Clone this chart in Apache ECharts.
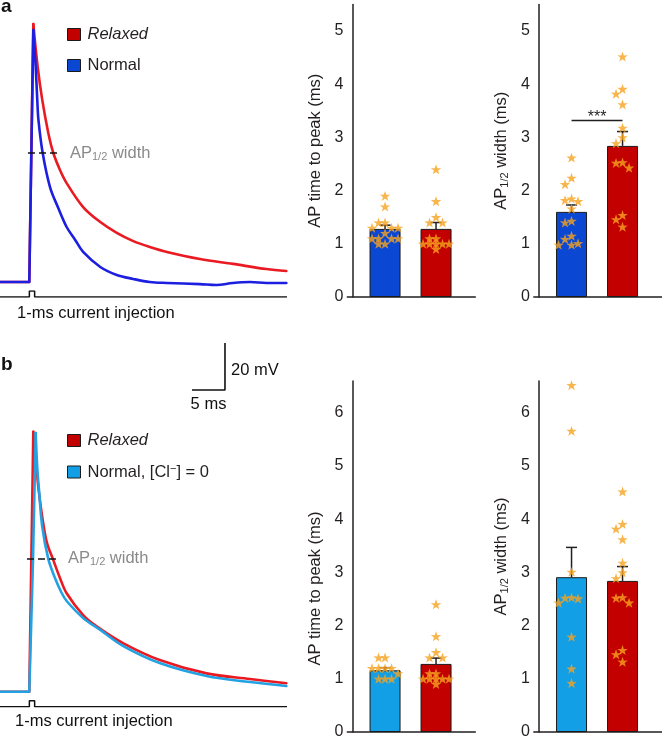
<!DOCTYPE html>
<html><head><meta charset="utf-8">
<script src="https://cdn.jsdelivr.net/npm/echarts@6/dist/echarts.min.js"></script>
<style>html,body{margin:0;padding:0;background:#fff}#c{width:662px;height:738px}</style>
</head><body><div id="c"></div>
<script>
// ---------- Action-potential traces (time in ms, membrane potential in mV) ----------
const aRelaxedT = [0, 4.44, 5.05, 5.71, 6.41, 7.32, 8.08, 9.09, 10.1, 12.6, 15.2, 17.7, 20.2, 22.7, 25.3, 30.3, 35.3, 40.4, 43.4];
const aRelaxedV = [-80, -80, 29.8, 11.5, -2.6, -16.6, -25.1, -32.3, -37.9, -48.1, -54.5, -59.1, -62.6, -65.1, -67.2, -70.2, -72.3, -74.5, -75.3];
const aNormalT = [0, 4.44, 5.05, 5.41, 5.65, 5.83, 6.47, 7.58, 8.83, 10.1, 11.4, 12.6, 15.2, 17.7, 20.2, 22.7, 25.3, 30.3, 32.8, 35.3, 37.9, 40.4, 43.4];
const aNormalV = [-80, -80, 27.2, 11.5, -2.6, -11.1, -25.1, -39.6, -48.5, -56.6, -62.1, -67.2, -73.6, -77.0, -78.7, -80, -80.4, -80.9, -81.3, -80.4, -80, -80.4, -80.4];
const bRelaxedT = [0, 4.44, 5.05, 5.45, 5.80, 6.47, 7.12, 8.08, 9.09, 10.1, 12.6, 14.7, 18.7, 24.2, 31.3, 37.9, 43.4];
const bRelaxedV = [-80, -80, 30.6, 18.6, 7.2, -6.9, -16.7, -24.0, -31.6, -38.1, -47.4, -52.3, -59.4, -66.5, -72.2, -74.6, -76.4];
const bNormalT = [0, 4.44, 5.0, 5.41, 5.65, 5.95, 6.41, 7.32, 8.33, 9.35, 10.1, 12.6, 15.2, 18.7, 24.2, 31.3, 37.9, 43.4];
const bNormalV = [-80, -80, -24.0, 30.1, 15.2, 4.6, -9.9, -23.5, -31.6, -38.0, -41.4, -48.6, -53.7, -60.6, -67.8, -73.3, -75.9, -77.6];
// stimulus (1-ms current injection), relative amplitude
const stimT = [0, 4.45, 4.45, 5.25, 5.25, 43.5];
const stimI = [0, 0, 1, 1, 0, 0];
// half-width markers [tStart, tEnd, level mV]
const aHalfWidth = [4.24, 8.79, -25.1];
const bHalfWidth = [4.09, 8.48, -23.5];
// scale bar: corner (ms, mV), lengths
const scaleCorner = [34.1, 48.4];
const scaleMs = 5, scaleMv = 20;

// ---------- Bar summaries (ms) : [Normal, Relaxed] ----------
const barX = [1, 2];
const aPeakMean = [1.28, 1.28], aPeakSem = [0.07, 0.12];
const aWidthMean = [1.60, 2.84], aWidthSem = [0.13, 0.27];
const bPeakMean = [1.16, 1.28], bPeakSem = [0.05, 0.11];
const bWidthMean = [2.91, 2.84], bWidthSem = [0.56, 0.27];
// individual cells
const aPeakNormal = [1.9, 1.7, 1.4, 1.4, 1.3, 1.3, 1.3, 1.2, 1.1, 1.1, 1.1, 1.1, 1.0, 1.0];
const relaxedPeak = [2.4, 1.8, 1.5, 1.4, 1.4, 1.1, 1.1, 1.0, 1.0, 1.0, 1.0, 1.0, 0.9];
const aWidthNormal = [2.62, 2.24, 2.12, 1.85, 1.82, 1.80, 1.66, 1.43, 1.40, 1.15, 1.09, 1.01, 0.98, 0.98];
const relaxedWidth = [4.52, 3.91, 3.82, 3.62, 3.18, 3.00, 2.89, 2.53, 2.52, 2.43, 1.54, 1.46, 1.32];
const bPeakNormal = [1.4, 1.4, 1.2, 1.2, 1.2, 1.2, 1.1, 1.0, 1.0, 1.0];
const bWidthNormal = [6.52, 5.66, 3.01, 2.53, 2.52, 2.51, 2.43, 1.79, 1.19, 0.92];
const sigLevel = 3.32, sigText = '***';

const yMaxA = 5.5, yMaxB = 6.6;

// ---------- styling ----------
const FONT = '"Liberation Sans", Arial, Helvetica, sans-serif';
const INK = '#231f20';
const C = {
  redTrace: '#ea1a22', blueTrace: '#1c1ee0', cyanTrace: '#22a2e2',
  redBar: '#c30000', blueBar: '#0a48d4', cyanBar: '#139fe6', star: '#f6a21e'
};
const NAME_N_A = 'Normal', NAME_R = 'Relaxed', NAME_N_B = 'Normal, [Cl\u2212] = 0';
const STAR = 'path://M50,0 L61.8,35.1 L97.6,34.5 L69,56 L79.4,90.5 L50,69.5 L20.6,90.5 L31,56 L2.4,34.5 L38.2,35.1 Z';
const PX_PER_MS = 53.2; // vertical px per ms on bar plots

const zip = (a, b) => a.map((v, i) => [v, b[i]]);

// deterministic beeswarm: spread overlapping cells sideways
function swarm(values, colPx, minSep) {
  const order = values.map((v, i) => i).sort((a, b) => values[b] - values[a]);
  const placed = [], offs = new Array(values.length).fill(0);
  const cols = [0, -1, 1, -2, 2];
  for (const i of order) {
    let chosen = null, cand = 0, candD = -1;
    for (const c of cols) {
      let d = Infinity;
      placed.forEach(p => { if (p.c === c) d = Math.min(d, Math.abs(p.v - values[i]) * PX_PER_MS); });
      if (d >= minSep) { chosen = c; break; }
      if (d > candD) { candD = d; cand = c; }
    }
    if (chosen === null) chosen = cand;
    placed.push({ c: chosen, v: values[i] });
    offs[i] = chosen * colPx;
  }
  return offs;
}

// ---------- grids ----------
const barXMin = 0.26, barXMax = 2.77;
const grids = [
  { left: 0, top: 0, width: 287, height: 305.5 },          // 0 trace a
  { left: 0, top: 291, width: 287, height: 6 },            // 1 stim a
  { left: 347.3, top: 4.4, width: 128, height: 292.6 },    // 2 bar a1
  { left: 533.8, top: 4.4, width: 128, height: 292.6 },    // 3 bar a2
  { left: 0, top: 339.2, width: 287, height: 376 },        // 4 trace b
  { left: 0, top: 700.7, width: 287, height: 6 },          // 5 stim b
  { left: 347.3, top: 380.9, width: 128, height: 351.1 },  // 6 bar b1
  { left: 533.8, top: 380.9, width: 128, height: 351.1 }   // 7 bar b2
].map(g => Object.assign({ outerBoundsMode: 'none', containLabel: false }, g));

const hiddenAxis = (gi, min, max) => ({ gridIndex: gi, type: 'value', min, max, show: false });
const xAxes = [], yAxes = [];
function barAxes(gi, max, name, rich, namePad) {
  xAxes.push({ gridIndex: gi, type: 'value', min: barXMin, max: barXMax,
    axisLine: { show: true, onZero: true, lineStyle: { color: INK, width: 1.5 } },
    axisTick: { show: false }, axisLabel: { show: false }, splitLine: { show: false } });
  yAxes.push({ gridIndex: gi, type: 'value', min: 0, max, interval: 1, offset: -5,
    axisLine: { show: true, onZero: false, lineStyle: { color: INK, width: 1.5 } },
    axisTick: { show: false }, splitLine: { show: false },
    axisLabel: { fontSize: 16, color: INK, fontFamily: FONT, margin: 9,
      formatter: v => (Math.abs(v - Math.round(v)) < 1e-9 ? String(Math.round(v)) : '') },
    name, nameLocation: 'middle', nameGap: 28,
    nameTextStyle: { fontSize: 16.5, color: INK, fontFamily: FONT, padding: namePad || 0, rich } });
}
const subRich = {
  a: { fontSize: 16.5, color: INK, fontFamily: FONT },
  s: { fontSize: 11, color: INK, fontFamily: FONT, padding: [7, 0, 0, 0] }
};
xAxes.push(hiddenAxis(0, 0, 43.5)); yAxes.push(hiddenAxis(0, -90, 40));
xAxes.push(hiddenAxis(1, 0, 43.5)); yAxes.push(hiddenAxis(1, 0, 1));
barAxes(2, yMaxA, 'AP time to peak (ms)');
barAxes(3, yMaxA, '{a|AP}{s|1/2}{a| width (ms)}', subRich);
xAxes.push(hiddenAxis(4, 0, 43.5)); yAxes.push(hiddenAxis(4, -90, 70));
xAxes.push(hiddenAxis(5, 0, 43.5)); yAxes.push(hiddenAxis(5, 0, 1));
barAxes(6, yMaxB, 'AP time to peak (ms)', null, [0, 64, 0, 0]);
barAxes(7, yMaxB, '{a|AP}{s|1/2}{a| width (ms)}', subRich);

// ---------- series ----------
const series = [];
function barSet(gi, means, sems, nName, nColor, nStars, rStars, sig) {
  series.push({ type: 'bar', name: nName, xAxisIndex: gi, yAxisIndex: gi, barWidth: 31, barGap: '-100%',
    data: [[barX[0], means[0]]], itemStyle: { color: nColor, borderColor: '#1a1a1a', borderWidth: 1 }, z: 2 });
  series.push({ type: 'bar', name: NAME_R, xAxisIndex: gi, yAxisIndex: gi, barWidth: 31, barGap: '-100%',
    data: [[barX[1], means[1]]], itemStyle: { color: C.redBar, borderColor: '#1a1a1a', borderWidth: 1 }, z: 2 });
  series.push({ type: 'custom', name: 'sem', xAxisIndex: gi, yAxisIndex: gi, z: 3, silent: true,
    data: barX.map((x, i) => [x, means[i], sems[i]]),
    renderItem: (params, api) => {
      const p0 = api.coord([api.value(0), api.value(1)]);
      const p1 = api.coord([api.value(0), api.value(1) + api.value(2)]);
      const st = { stroke: INK, lineWidth: 1.5 };
      return { type: 'group', children: [
        { type: 'line', shape: { x1: p0[0], y1: p0[1], x2: p1[0], y2: p1[1] }, style: st },
        { type: 'line', shape: { x1: p1[0] - 5.5, y1: p1[1], x2: p1[0] + 5.5, y2: p1[1] }, style: st }
      ] };
    } });
  [[nStars, barX[0]], [rStars, barX[1]]].forEach(([vals, x]) => {
    const offs = swarm(vals, 6.5, 8);
    series.push({ type: 'scatter', name: 'cells', xAxisIndex: gi, yAxisIndex: gi, z: 5, silent: true,
      symbol: STAR, symbolSize: 10.5, symbolKeepAspect: true, itemStyle: { color: C.star },
      data: vals.map((v, i) => ({ value: [x, v], symbolOffset: [offs[i], 0] })) });
  });
  if (sig) {
    series.push({ type: 'custom', name: 'sig', xAxisIndex: gi, yAxisIndex: gi, z: 4, silent: true,
      data: [[barX[0], barX[1], sigLevel]],
      renderItem: (params, api) => {
        const p0 = api.coord([api.value(0), api.value(2)]);
        const p1 = api.coord([api.value(1), api.value(2)]);
        return { type: 'group', children: [
          { type: 'line', shape: { x1: p0[0], y1: p0[1], x2: p1[0], y2: p1[1] }, style: { stroke: INK, lineWidth: 1.5 } },
          { type: 'text', x: (p0[0] + p1[0]) / 2, y: p0[1] - 3, style: { text: sigText, align: 'center', verticalAlign: 'middle', font: '16px ' + FONT, fill: INK } }
        ] };
      } });
  }
}
barSet(2, aPeakMean, aPeakSem, NAME_N_A, C.blueBar, aPeakNormal, relaxedPeak, false);
barSet(3, aWidthMean, aWidthSem, NAME_N_A, C.blueBar, aWidthNormal, relaxedWidth, true);
barSet(6, bPeakMean, bPeakSem, NAME_N_B, C.cyanBar, bPeakNormal, relaxedPeak, false);
barSet(7, bWidthMean, bWidthSem, NAME_N_B, C.cyanBar, bWidthNormal, relaxedWidth, false);

const halfLabel = {
  show: true, position: 'end', distance: 12, formatter: '{a|AP}{s|1/2}{a| width}',
  rich: { a: { fontSize: 16.5, color: '#8a8a8a', fontFamily: FONT }, s: { fontSize: 11, color: '#8a8a8a', fontFamily: FONT, padding: [7, 0, 0, 0] } }
};
// a trace = unsmoothed upstroke up to the peak + smoothed repolarisation from the peak
function addTrace(gi, T, V, name, color, z, extra) {
  const k = V.indexOf(Math.max(...V));
  const base = { type: 'line', name, xAxisIndex: gi, yAxisIndex: gi, showSymbol: false, z,
    lineStyle: { color, width: 2.6, cap: 'round', join: 'round' }, itemStyle: { color } };
  series.push(Object.assign({}, base, { data: zip(T.slice(0, k + 1), V.slice(0, k + 1)) }));
  series.push(Object.assign({}, base, { data: zip(T.slice(k), V.slice(k)), smooth: 0.35 }, extra || {}));
}
function traces(gi, rT, rV, nT, nV, nName, nColor, hw) {
  addTrace(gi, rT, rV, NAME_R, C.redTrace, 2, {
    markLine: { silent: true, symbol: ['none', 'none'], animation: false,
      lineStyle: { type: [7, 4], color: '#111', width: 1.6 }, label: halfLabel,
      data: [[{ coord: [hw[0], hw[2]] }, { coord: [hw[1], hw[2]] }]] } });
  addTrace(gi, nT, nV, nName, nColor, 3);
  series.push({ type: 'line', name: 'stim', xAxisIndex: gi + 1, yAxisIndex: gi + 1, data: zip(stimT, stimI), showSymbol: false,
    lineStyle: { color: '#111', width: 1.5 }, z: 2 });
}
traces(0, aRelaxedT, aRelaxedV, aNormalT, aNormalV, NAME_N_A, C.blueTrace, aHalfWidth);
traces(4, bRelaxedT, bRelaxedV, bNormalT, bNormalV, NAME_N_B, C.cyanTrace, bHalfWidth);
series.push({ type: 'line', name: 'scale', xAxisIndex: 4, yAxisIndex: 4, showSymbol: false,
  data: [[scaleCorner[0] - scaleMs, scaleCorner[1]], scaleCorner, [scaleCorner[0], scaleCorner[1] + scaleMv]],
  lineStyle: { color: '#111', width: 1.6 } });

const legendBase = {
  orient: 'vertical', left: 67, itemWidth: 13, itemHeight: 12, itemGap: 14, padding: 0, icon: 'rect',
  selectedMode: false,
  itemStyle: { borderColor: '#1a1a1a', borderWidth: 1 },
  textStyle: { fontSize: 16.5, color: INK, fontFamily: FONT, padding: [0, 0, 0, 2],
    rich: { t: { fontSize: 16.5, color: INK, fontFamily: FONT }, sup: { fontSize: 11, color: INK, fontFamily: FONT, padding: [0, 0, 7, 0] } } },
  formatter: n => n === NAME_N_B ? '{t|Normal, [Cl}{sup|\u2212}{t|] = 0}' : n
};
const legends = [
  Object.assign({}, legendBase, { top: 26, data: [{ name: NAME_R, textStyle: { fontStyle: 'italic' } }, { name: NAME_N_A }] }),
  Object.assign({}, legendBase, { top: 432, data: [{ name: NAME_R, textStyle: { fontStyle: 'italic' } }, { name: NAME_N_B }] })
];

const txt = (t, x, y, font, align, va) => ({ type: 'text', x, y, silent: true,
  style: { text: t, font, fill: '#111', align: align || 'left', verticalAlign: va || 'middle' } });
const graphic = [
  txt('a', 1, 16, 'bold 19px ' + FONT, 'left', 'bottom'),
  txt('b', 1, 374, 'bold 19px ' + FONT, 'left', 'bottom'),
  txt('1-ms current injection', 17, 313, '16.5px ' + FONT),
  txt('1-ms current injection', 15, 721, '16.5px ' + FONT),
  txt('20 mV', 231, 370, '16.5px ' + FONT),
  txt('5 ms', 208.5, 404, '16.5px ' + FONT, 'center')
];

const chart = echarts.init(document.getElementById('c'), null, { renderer: 'canvas' });
chart.setOption({
  animation: false, backgroundColor: '#fff',
  grid: grids, xAxis: xAxes, yAxis: yAxes, series, legend: legends, graphic
});
</script></body></html>
